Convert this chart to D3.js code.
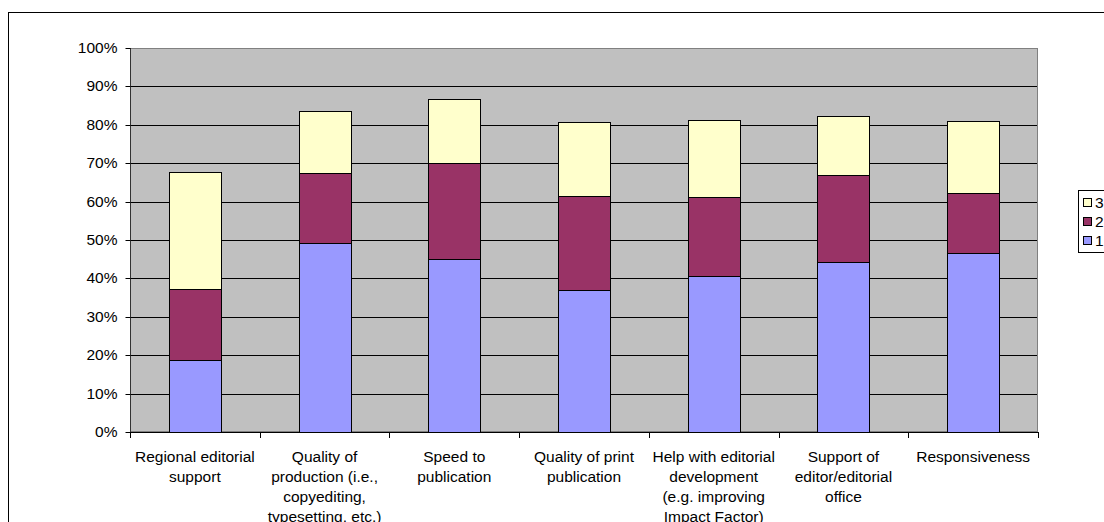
<!DOCTYPE html>
<html>
<head>
<meta charset="utf-8">
<script src="https://cdn.jsdelivr.net/npm/d3@7"></script>
<style>
  html, body { margin: 0; padding: 0; background: #fff; }
  svg { display: block; }
  text { font-family: "Liberation Sans", Arial, sans-serif; fill: #000; }
</style>
</head>
<body>
<svg id="chart" width="1104" height="522"></svg>
<script>
// Categories (label lines as they wrap under the axis)
const categories = [
  "Regional editorial support",
  "Quality of production",
  "Speed to publication",
  "Quality of print publication",
  "Help with editorial development",
  "Support of editor/editorial office",
  "Responsiveness"
];
const categoryLines = [
  ["Regional editorial", "support"],
  ["Quality of", "production (i.e.,", "copyediting,", "typesetting, etc.)"],
  ["Speed to", "publication"],
  ["Quality of print", "publication"],
  ["Help with editorial", "development", "(e.g. improving", "Impact Factor)"],
  ["Support of", "editor/editorial", "office"],
  ["Responsiveness"]
];

// Stacked series shares (fractions of respondents)
const series1 = [0.187, 0.491, 0.450, 0.371, 0.407, 0.442, 0.466];
const series2 = [0.185, 0.183, 0.250, 0.244, 0.205, 0.226, 0.156];
const series3 = [0.304, 0.161, 0.166, 0.192, 0.201, 0.156, 0.188];

const seriesNames = ["1", "2", "3"];
const seriesColors = ["#9999FF", "#993366", "#FFFFCC"];

const yTicks = [0, 0.1, 0.2, 0.3, 0.4, 0.5, 0.6, 0.7, 0.8, 0.9, 1.0];

const svg = d3.select("#chart");

// Outer chart frame
svg.append("rect")
  .attr("x", 8.5).attr("y", 12.5)
  .attr("width", 1200).attr("height", 600)
  .attr("fill", "#fff").attr("stroke", "#000").attr("stroke-width", 1);

const plot = { left: 130, right: 1038, top: 48, bottom: 432 };

const y = d3.scaleLinear().domain([0, 1]).range([plot.bottom, plot.top]);
const xCat = d3.scaleBand().domain(categories).range([plot.left, plot.right]).padding(0);
const x = d3.scaleBand().domain(categories).range([plot.left, plot.right])
  .paddingInner(0.6).paddingOuter(0.3);

// Plot background
svg.append("rect")
  .attr("x", plot.left).attr("y", plot.top)
  .attr("width", plot.right - plot.left).attr("height", plot.bottom - plot.top)
  .attr("fill", "#C0C0C0");

// Horizontal gridlines
svg.append("g")
  .selectAll("line")
  .data(yTicks.filter(d => d > 0 && d < 1))
  .join("line")
  .attr("x1", plot.left).attr("x2", plot.right)
  .attr("y1", d => Math.round(y(d)) + 0.5).attr("y2", d => Math.round(y(d)) + 0.5)
  .attr("stroke", "#000").attr("stroke-width", 1);

// Plot border
svg.append("rect")
  .attr("x", plot.left + 0.5).attr("y", plot.top + 0.5)
  .attr("width", plot.right - plot.left - 1).attr("height", plot.bottom - plot.top - 1)
  .attr("fill", "none").attr("stroke", "#808080").attr("stroke-width", 1);

// Stacked bars
const rows = categories.map((c, i) => ({ cat: c, s1: series1[i], s2: series2[i], s3: series3[i] }));
const stack = d3.stack().keys(["s1", "s2", "s3"]);
const layers = stack(rows);

svg.append("g")
  .selectAll("g")
  .data(layers)
  .join("g")
  .attr("fill", (d, i) => seriesColors[i])
  .selectAll("rect")
  .data(d => d)
  .join("rect")
  .attr("x", d => Math.round(x(d.data.cat)) + 0.5)
  .attr("width", Math.round(x.bandwidth()))
  .attr("y", d => Math.round(y(d[1])) + 0.5)
  .attr("height", d => Math.round(y(d[0])) - Math.round(y(d[1])))
  .attr("stroke", "#000").attr("stroke-width", 1);

// Y axis
const yAxis = d3.axisLeft(y)
  .tickValues(yTicks)
  .tickFormat(d3.format(".0%"))
  .tickSize(5)
  .tickPadding(8);
const gy = svg.append("g")
  .attr("transform", `translate(${plot.left + 0.5},0)`)
  .call(yAxis);
gy.select(".domain").attr("stroke", "#333").attr("d", `M0,${plot.top}V${plot.bottom}`);
gy.selectAll(".tick line").attr("stroke", "#000");
gy.selectAll(".tick").attr("transform", d => `translate(0,${Math.round(y(d)) + 0.5})`);
gy.selectAll(".tick text")
  .attr("font-size", "15.5px")
  .attr("font-family", "'Liberation Sans', Arial, sans-serif")
  .attr("fill", "#000");

// X axis baseline and category boundary ticks
const xg = svg.append("g");
xg.append("line")
  .attr("x1", plot.left).attr("x2", plot.right)
  .attr("y1", plot.bottom + 0.5).attr("y2", plot.bottom + 0.5)
  .attr("stroke", "#000");
const boundaries = categories.map(c => xCat(c)).concat([plot.right]);
xg.selectAll("line.tick")
  .data(boundaries)
  .join("line")
  .attr("class", "tick")
  .attr("x1", d => Math.round(d) + 0.5).attr("x2", d => Math.round(d) + 0.5)
  .attr("y1", plot.bottom).attr("y2", plot.bottom + 6)
  .attr("stroke", "#000");

// Category labels
const labels = xg.selectAll("text.cat")
  .data(categories)
  .join("text")
  .attr("class", "cat")
  .attr("text-anchor", "middle")
  .attr("font-size", "15.5px")
  .attr("x", d => xCat(d) + xCat.bandwidth() / 2)
  .attr("y", 462);
labels.each(function(d, i) {
  const t = d3.select(this);
  categoryLines[i].forEach((line, j) => {
    t.append("tspan")
      .attr("x", xCat(d) + xCat.bandwidth() / 2)
      .attr("dy", j === 0 ? 0 : 20)
      .text(line);
  });
});

// Legend (series listed top-down in reverse stack order)
const legend = svg.append("g");
legend.append("rect")
  .attr("x", 1078.5).attr("y", 190.5)
  .attr("width", 60).attr("height", 62)
  .attr("fill", "#fff").attr("stroke", "#000");
const legendOrder = [2, 1, 0];
const items = legend.selectAll("g.item")
  .data(legendOrder)
  .join("g")
  .attr("class", "item")
  .attr("transform", (d, i) => `translate(0,${203 + i * 19})`);
items.append("rect")
  .attr("x", 1083.5).attr("y", -4.5)
  .attr("width", 8).attr("height", 8)
  .attr("fill", d => seriesColors[d]).attr("stroke", "#000");
items.append("text")
  .attr("x", 1095).attr("y", 0)
  .attr("dy", "0.35em")
  .attr("font-size", "15.5px")
  .text(d => seriesNames[d]);
</script>
</body>
</html>
